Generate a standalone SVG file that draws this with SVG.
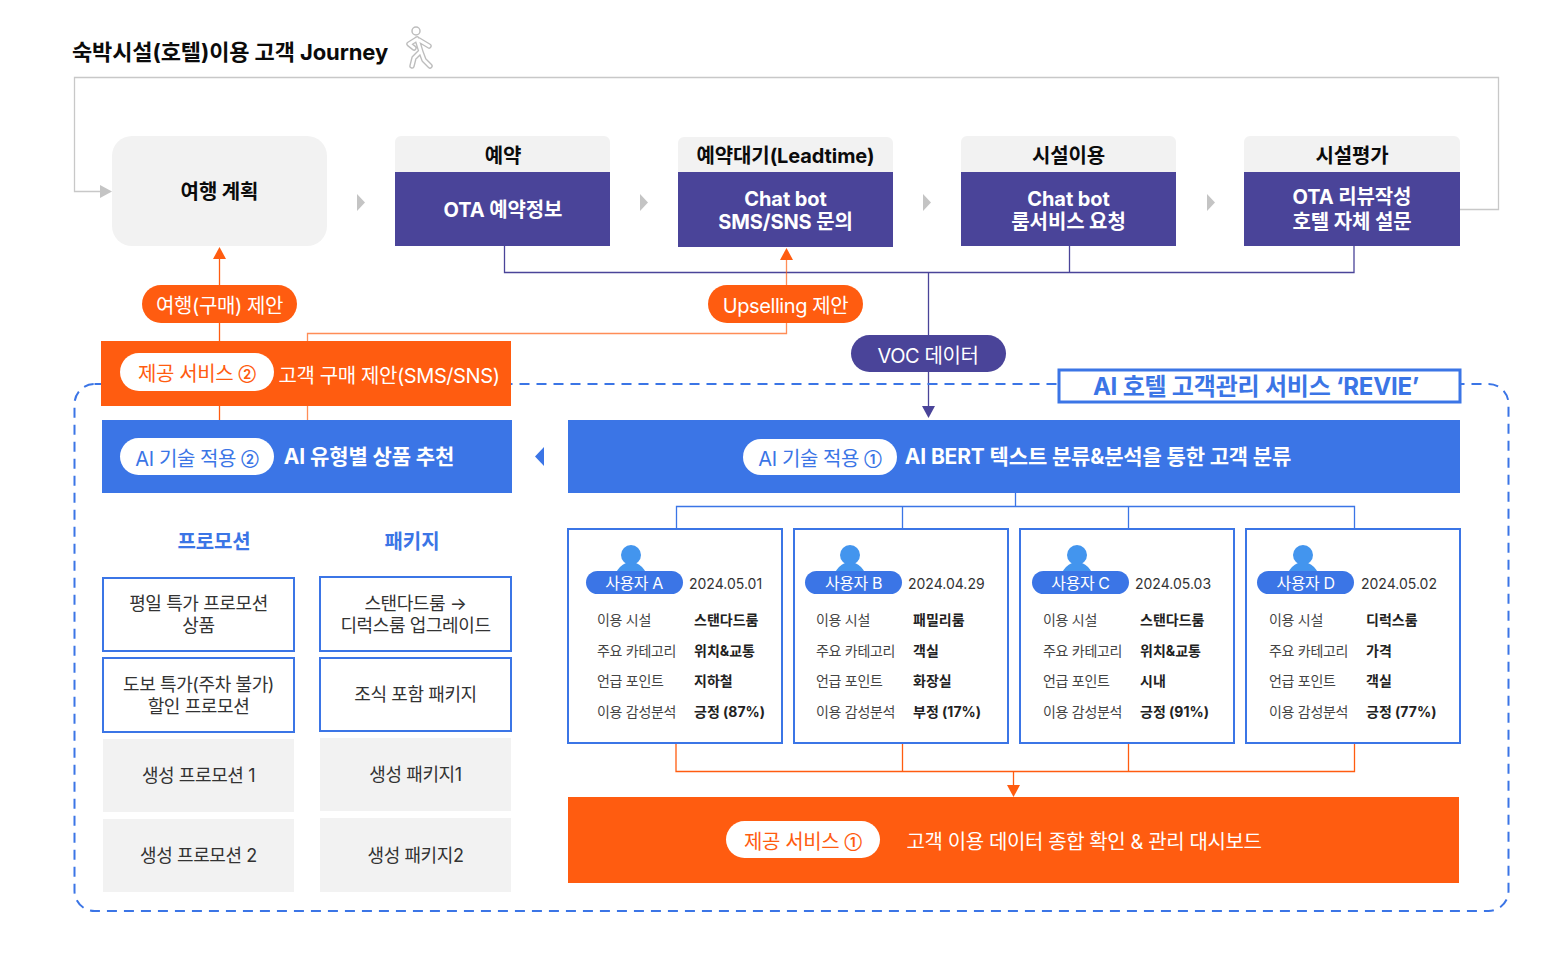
<svg xmlns="http://www.w3.org/2000/svg" width="1568" height="957" viewBox="0 0 1568 957">
<style>
text{font-family:Inter,"Noto Sans CJK KR",sans-serif;text-anchor:middle;letter-spacing:-.4px}
.b{font-weight:700;letter-spacing:-.1px}
.w{fill:#fff}.k{fill:#0b0b0b}
.t20{font-size:20px}.t19{font-size:19px}
.l{font-size:14px;fill:#444;text-anchor:start;letter-spacing:-.3px}
.v{font-size:14px;fill:#222;font-weight:700;text-anchor:start;letter-spacing:0}
.d{font-size:14px;text-anchor:start;letter-spacing:0;fill:#333}
.u{font-size:16px;fill:#fff}
.n{font-size:12.500px;font-weight:700;letter-spacing:0}
.gr{fill:#f2f2f2}.pu{fill:#4a4499}.bl{fill:#3b75e6}.or{fill:#ff5c10}
.box{fill:#fff;stroke:#3b75e6;stroke-width:2}
.card{fill:#fff;stroke:#3b75e6;stroke-width:2}
.lbl{font-size:18px;fill:#333}
.c{fill:none;stroke-width:1.3}
</style>
<defs>
<g id="person"><circle cx="0" cy="-21" r="10" fill="#4395ee"/><path d="M-15 -3Q-12 -10 -5 -13H5Q12 -10 15 -3Z" fill="#4395ee"/></g>
<path id="walk" fill="none" stroke-linecap="round" stroke-linejoin="round" d="M417 39L421 52M417 39L409 44L414 48M419 40L429 46M420 52L414 58L412 66M421 52L424 60L430 66"/>
</defs>

<g id="connectors">
<path class="c" stroke="#c8c8c8" d="M1460 209.500H1498.500V77.500H74.500V191.500H102"/>
<polygon points="100,185 112,191.500 100,198" fill="#c4c4c4"/>
<polygon points="357,194 365,202.500 357,211" fill="#c4c4c4"/>
<polygon points="640,194 648,202.500 640,211" fill="#c4c4c4"/>
<polygon points="923,194 931,202.500 923,211" fill="#c4c4c4"/>
<polygon points="1207,194 1215,202.500 1207,211" fill="#c4c4c4"/>
<path class="c" stroke="#4a4499" d="M504.500 246V272.500H1354V246M1069.500 246V272.500M928.500 272.500V410"/>
<polygon points="922,406 935,406 928.500,418" fill="#4a4499"/>
<path class="c" stroke="#ff5c10" d="M219.500 256V420"/>
<polygon points="213,259 226,259 219.500,247" fill="#ff5c10"/>
<path class="c" stroke="#ff5c10" stroke-opacity=".7" d="M786.500 256V333.500H307.500V420"/>
<polygon points="780,260 793,260 786.500,248" fill="#ff5c10"/>
<path class="c" stroke="#3b75e6" d="M1015.500 493V506.500M676.500 528V506.500H1354.500V528M902.500 506.500V528M1128.500 506.500V528"/>
<path class="c" stroke="#ff5c10" d="M676 743V771.500H1354.500V743M902.500 743V771.500M1128.500 743V771.500M1013.500 771.500V786"/>
<polygon points="1007,785 1020,785 1013.500,797" fill="#ff5c10"/>
<polygon points="544,447 544,466 535,456.500" fill="#3b75e6"/>
</g>

<g id="frame"><rect x="74.500" y="384" width="1434" height="527" rx="20" fill="none" stroke="#3b75e6" stroke-width="2" stroke-dasharray="10 7"/></g>

<g id="title">
<text x="230" y="60" class="b k" style="font-size:22px">숙박시설(호텔)이용 고객 Journey</text>
<circle cx="416" cy="31" r="4" fill="none" stroke="#bdbdbd" stroke-width="1.5"/>
<use href="#walk" stroke="#bdbdbd" stroke-width="5.500"/><use href="#walk" stroke="#fff" stroke-width="2.800"/>
</g>

<g id="n-plan"><rect x="112" y="136" width="215" height="110" rx="20" class="gr"/><text x="219.500" y="199" class="b k" style="font-size:20px">여행 계획</text></g>

<g id="n-reserve"><path d="M395 172V142a6 6 0 0 1 6-6H604a6 6 0 0 1 6 6V172Z" class="gr"/><rect x="395" y="172" width="215" height="74" class="pu"/><text x="503" y="163" class="b k t20">예약</text><text x="503" y="217" class="b w t20">OTA 예약정보</text></g>

<g id="n-wait"><path d="M678 172V143a6 6 0 0 1 6-6H887a6 6 0 0 1 6 6V172Z" class="gr"/><rect x="678" y="172" width="215" height="75" class="pu"/><text x="785.500" y="163" class="b k t20">예약대기(Leadtime)</text><text x="785.500" y="206" class="b w t20">Chat bot</text><text x="785.500" y="229" class="b w t20">SMS/SNS 문의</text></g>

<g id="n-use"><path d="M961 172V142a6 6 0 0 1 6-6H1170a6 6 0 0 1 6 6V172Z" class="gr"/><rect x="961" y="172" width="215" height="74" class="pu"/><text x="1068.500" y="163" class="b k t20">시설이용</text><text x="1068.500" y="206" class="b w t20">Chat bot</text><text x="1068.500" y="229" class="b w t20">룸서비스 요청</text></g>

<g id="n-review"><path d="M1244 172V142a6 6 0 0 1 6-6H1454a6 6 0 0 1 6 6V172Z" class="gr"/><rect x="1244" y="172" width="216" height="74" class="pu"/><text x="1352" y="163" class="b k t20">시설평가</text><text x="1352" y="204" class="b w t20">OTA 리뷰작성</text><text x="1352" y="229" class="b w t20">호텔 자체 설문</text></g>

<g id="p-travel"><rect x="142" y="285" width="155" height="38" rx="19" class="or"/><text x="219.500" y="313" class="w t20">여행(구매) 제안</text></g>
<g id="p-upsell"><rect x="708" y="285" width="155" height="38" rx="19" class="or"/><text x="785.500" y="312.500" class="w t20">Upselling 제안</text></g>
<g id="p-voc"><rect x="851" y="335" width="155" height="37" rx="18.500" class="pu"/><text x="928" y="363" class="w t20">VOC 데이터</text></g>

<g id="n-service2"><rect x="101" y="341" width="410" height="65" class="or"/><rect x="120" y="353" width="154" height="38" rx="19" fill="#fff"/><text x="197" y="381" class="t20" fill="#ff5c10">제공 서비스 <tspan class="n" dy="-2">②</tspan></text><text x="389" y="383" class="w t20">고객 구매 제안(SMS/SNS)</text></g>

<g id="n-revie"><rect x="1059" y="370" width="401" height="32" fill="#fff" stroke="#3b75e6" stroke-width="3"/><text x="1256" y="395" class="b" style="font-size:24px;letter-spacing:-.2px" fill="#3b75e6">AI 호텔 고객관리 서비스 ‘REVIE’</text></g>

<g id="n-ai2"><rect x="102" y="420" width="410" height="73" class="bl"/><rect x="120" y="438" width="154" height="37" rx="18.500" fill="#fff"/><text x="197" y="466" class="t20" fill="#3b75e6">AI 기술 적용 <tspan class="n" dy="-2">②</tspan></text><text x="369" y="464" class="b w" style="font-size:21px">AI 유형별 상품 추천</text></g>

<g id="n-ai1"><rect x="568" y="420" width="892" height="73" class="bl"/><rect x="743" y="439" width="154" height="36" rx="18" fill="#fff"/><text x="820" y="466" class="t20" fill="#3b75e6">AI 기술 적용 <tspan class="n" dy="-2">①</tspan></text><text x="1098" y="464" class="b w" style="font-size:21px;letter-spacing:-.15px">AI BERT 텍스트 분류&amp;분석을 통한 고객 분류</text></g>

<g id="promo">
<text x="214" y="549" class="b t20" fill="#3b75e6">프로모션</text>
<text x="412" y="549" class="b t20" fill="#3b75e6">패키지</text>
<g id="p1"><rect x="103" y="578" width="191" height="73" class="box"/><text x="198.500" y="610" class="lbl">평일 특가 프로모션</text><text x="198.500" y="632" class="lbl">상품</text></g>
<g id="p2"><rect x="103" y="658" width="191" height="74" class="box"/><text x="198.500" y="691" class="lbl">도보 특가(주차 불가)</text><text x="198.500" y="713" class="lbl">할인 프로모션</text></g>
<g id="p3"><rect x="103" y="739" width="191" height="73" class="gr"/><text x="198.500" y="782" class="lbl">생성 프로모션 1</text></g>
<g id="p4"><rect x="103" y="819" width="191" height="73" class="gr"/><text x="198.500" y="862" class="lbl">생성 프로모션 2</text></g>
<g id="k1"><rect x="320" y="577" width="191" height="74" class="box"/><text x="415.500" y="610" class="lbl">스탠다드룸 →</text><text x="415.500" y="632" class="lbl">디럭스룸 업그레이드</text></g>
<g id="k2"><rect x="320" y="658" width="191" height="73" class="box"/><text x="415.500" y="701" class="lbl">조식 포함 패키지</text></g>
<g id="k3"><rect x="320" y="738" width="191" height="73" class="gr"/><text x="415.500" y="781" class="lbl">생성 패키지1</text></g>
<g id="k4"><rect x="320" y="818" width="191" height="74" class="gr"/><text x="415.500" y="862" class="lbl">생성 패키지2</text></g>
</g>

<g id="user-a"><rect x="568" y="529" width="214" height="214" class="card"/><use href="#person" x="631" y="576"/><rect x="586" y="571" width="97" height="23" rx="11.500" class="bl"/><text x="634" y="589" class="u">사용자 A</text><text x="689" y="589" class="d">2024.05.01</text>
<text x="597" y="625" class="l">이용 시설</text><text x="694" y="625" class="v">스탠다드룸</text><text x="597" y="656" class="l">주요 카테고리</text><text x="694" y="656" class="v">위치&amp;교통</text><text x="597" y="686" class="l">언급 포인트</text><text x="694" y="686" class="v">지하철</text><text x="597" y="717" class="l">이용 감성분석</text><text x="694" y="717" class="v">긍정 (87%)</text></g>

<g id="user-b"><rect x="794" y="529" width="214" height="214" class="card"/><use href="#person" x="850" y="576"/><rect x="805" y="571" width="97" height="23" rx="11.500" class="bl"/><text x="853.500" y="589" class="u">사용자 B</text><text x="908" y="589" class="d">2024.04.29</text>
<text x="816" y="625" class="l">이용 시설</text><text x="913" y="625" class="v">패밀리룸</text><text x="816" y="656" class="l">주요 카테고리</text><text x="913" y="656" class="v">객실</text><text x="816" y="686" class="l">언급 포인트</text><text x="913" y="686" class="v">화장실</text><text x="816" y="717" class="l">이용 감성분석</text><text x="913" y="717" class="v">부정 (17%)</text></g>

<g id="user-c"><rect x="1020" y="529" width="214" height="214" class="card"/><use href="#person" x="1077" y="576"/><rect x="1032" y="571" width="97" height="23" rx="11.500" class="bl"/><text x="1080.500" y="589" class="u">사용자 C</text><text x="1135" y="589" class="d">2024.05.03</text>
<text x="1043" y="625" class="l">이용 시설</text><text x="1140" y="625" class="v">스탠다드룸</text><text x="1043" y="656" class="l">주요 카테고리</text><text x="1140" y="656" class="v">위치&amp;교통</text><text x="1043" y="686" class="l">언급 포인트</text><text x="1140" y="686" class="v">시내</text><text x="1043" y="717" class="l">이용 감성분석</text><text x="1140" y="717" class="v">긍정 (91%)</text></g>

<g id="user-d"><rect x="1246" y="529" width="214" height="214" class="card"/><use href="#person" x="1303" y="576"/><rect x="1257" y="571" width="97" height="23" rx="11.500" class="bl"/><text x="1305.500" y="589" class="u">사용자 D</text><text x="1361" y="589" class="d">2024.05.02</text>
<text x="1269" y="625" class="l">이용 시설</text><text x="1366" y="625" class="v">디럭스룸</text><text x="1269" y="656" class="l">주요 카테고리</text><text x="1366" y="656" class="v">가격</text><text x="1269" y="686" class="l">언급 포인트</text><text x="1366" y="686" class="v">객실</text><text x="1269" y="717" class="l">이용 감성분석</text><text x="1366" y="717" class="v">긍정 (77%)</text></g>

<g id="n-service1"><rect x="568" y="797" width="891" height="86" class="or"/><rect x="726" y="821" width="154" height="37" rx="18.500" fill="#fff"/><text x="803" y="849" class="t20" fill="#ff5c10">제공 서비스 <tspan class="n" dy="-2">①</tspan></text><text x="1084" y="849" class="w t20">고객 이용 데이터 종합 확인 &amp; 관리 대시보드</text></g>
</svg>
